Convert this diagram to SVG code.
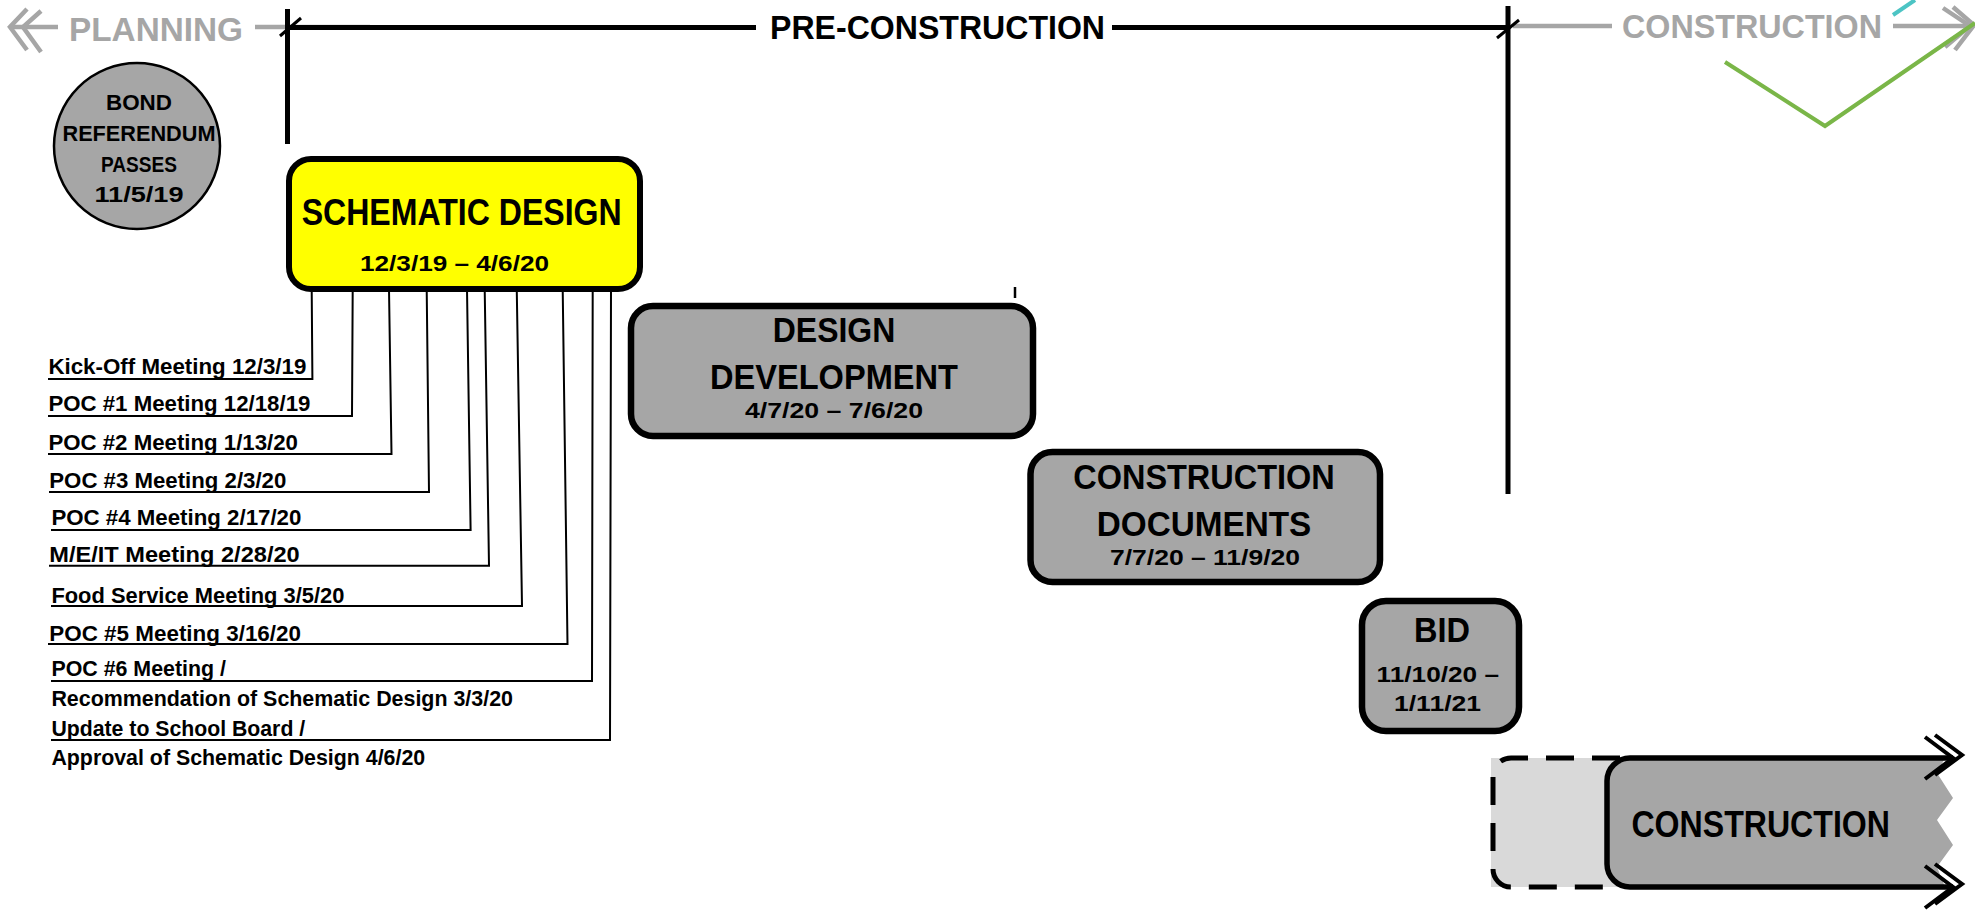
<svg xmlns="http://www.w3.org/2000/svg" width="1975" height="915" viewBox="0 0 1975 915">
<style>
text{font-family:"Liberation Sans",Arial,sans-serif;font-weight:bold;fill:#000}
.hdr{font-size:34px}
.ghdr{font-size:34px;fill:#a6a6a6}
.gl{stroke:#a6a6a6;stroke-width:4.5;fill:none}
.bl{stroke:#000;stroke-width:5;fill:none}
.box{fill:#a6a6a6;stroke:#000;stroke-width:6.5}
.ttl{font-size:35px}
.dt{font-size:22px}
.mt{font-size:21.5px}
.conn{stroke:#000;stroke-width:2;fill:none}
</style>
<rect width="1975" height="915" fill="#fff"/>

<g id="header">
  <line class="gl" x1="10" y1="27" x2="58" y2="27"/>
  <polyline class="gl" points="27,9 10,27 27,50"/>
  <polyline class="gl" points="41,11 23,27 41,52"/>
  <text class="ghdr" x="69" y="40.7" textLength="174" lengthAdjust="spacingAndGlyphs">PLANNING</text>
  <line class="gl" x1="255" y1="27" x2="370" y2="27"/>
  <line class="bl" x1="287" y1="27.5" x2="756" y2="27.5"/>
  <text class="hdr" x="770" y="39" textLength="335" lengthAdjust="spacingAndGlyphs">PRE-CONSTRUCTION</text>
  <line class="bl" x1="1112" y1="27.5" x2="1508" y2="27.5"/>
  <line class="gl" x1="1513" y1="26" x2="1612" y2="26"/>
  <text class="ghdr" x="1622" y="37.7" textLength="260" lengthAdjust="spacingAndGlyphs">CONSTRUCTION</text>
  <line class="gl" x1="1893" y1="26" x2="1968" y2="26"/>
  <polyline class="gl" points="1943,8 1970,26 1945,47"/>
  <polyline class="gl" points="1953,7 1974,25 1955,50"/>
  <line x1="1893" y1="15" x2="1915" y2="0" stroke="#4cc4c4" stroke-width="4"/>
  <polyline points="1725,62 1825,126 1975,23" fill="none" stroke="#7ab648" stroke-width="4"/>
  <line class="bl" x1="287.5" y1="9" x2="287.5" y2="144"/>
  <line class="bl" x1="1508" y1="6" x2="1508" y2="494"/>
  <line x1="280" y1="36" x2="301" y2="18" stroke="#000" stroke-width="3"/>
  <line x1="1497" y1="38" x2="1519" y2="20" stroke="#000" stroke-width="3"/>
  <line x1="1015" y1="287" x2="1015" y2="298" stroke="#000" stroke-width="2.5"/>
</g>

<g id="connectors">
  <path class="conn" d="M311.7,289 L312.4,379 H48"/>
  <path class="conn" d="M352.7,289 L352,416 H48"/>
  <path class="conn" d="M389,289 L391.5,454 H48"/>
  <path class="conn" d="M426.7,289 L429,492 H49"/>
  <path class="conn" d="M467,289 L470.6,530 H51"/>
  <path class="conn" d="M484.7,289 L489,565.7 H49"/>
  <path class="conn" d="M516.7,286 L522,606 H51"/>
  <path class="conn" d="M562.7,289 L567.5,644 H48"/>
  <path class="conn" d="M592.7,289 L592,681 H51"/>
  <path class="conn" d="M611,289 L610,740 H51"/>
</g>

<g id="bond-referendum">
  <circle cx="137" cy="146" r="83" fill="#a6a6a6" stroke="#000" stroke-width="2.5"/>
  <text class="mt" x="139" y="109.5" text-anchor="middle" textLength="66" lengthAdjust="spacingAndGlyphs">BOND</text>
  <text class="mt" x="139" y="140.5" text-anchor="middle" textLength="153" lengthAdjust="spacingAndGlyphs">REFERENDUM</text>
  <text class="mt" x="139" y="171.5" text-anchor="middle" textLength="76" lengthAdjust="spacingAndGlyphs">PASSES</text>
  <text class="mt" x="139" y="202" text-anchor="middle" textLength="89" lengthAdjust="spacingAndGlyphs">11/5/19</text>
</g>

<g id="schematic-design">
  <rect x="289" y="159" width="351" height="130" rx="22" fill="#ffff00" stroke="#000" stroke-width="6"/>
  <text x="461.7" y="225" font-size="36" text-anchor="middle" textLength="320" lengthAdjust="spacingAndGlyphs">SCHEMATIC DESIGN</text>
  <text class="dt" x="454.5" y="270.7" text-anchor="middle" textLength="189" lengthAdjust="spacingAndGlyphs">12/3/19 – 4/6/20</text>
</g>

<g id="design-development">
  <rect class="box" x="631" y="306" width="402" height="130" rx="22"/>
  <text class="ttl" x="834" y="341.5" text-anchor="middle" textLength="122.5" lengthAdjust="spacingAndGlyphs">DESIGN</text>
  <text class="ttl" x="834" y="389" text-anchor="middle" textLength="248" lengthAdjust="spacingAndGlyphs">DEVELOPMENT</text>
  <text class="dt" x="834" y="417.7" text-anchor="middle" textLength="178" lengthAdjust="spacingAndGlyphs">4/7/20 – 7/6/20</text>
</g>

<g id="construction-documents">
  <rect class="box" x="1030.5" y="452" width="349.5" height="130" rx="22"/>
  <text class="ttl" x="1204" y="488.5" text-anchor="middle" textLength="261.5" lengthAdjust="spacingAndGlyphs">CONSTRUCTION</text>
  <text class="ttl" x="1204" y="535.5" text-anchor="middle" textLength="214.5" lengthAdjust="spacingAndGlyphs">DOCUMENTS</text>
  <text class="dt" x="1205" y="565" text-anchor="middle" textLength="190" lengthAdjust="spacingAndGlyphs">7/7/20 – 11/9/20</text>
</g>

<g id="bid">
  <rect class="box" x="1362" y="601" width="157" height="130" rx="24"/>
  <text class="ttl" x="1442" y="642" text-anchor="middle" textLength="56" lengthAdjust="spacingAndGlyphs">BID</text>
  <text class="dt" x="1437.8" y="681.7" text-anchor="middle" textLength="122.4" lengthAdjust="spacingAndGlyphs">11/10/20 –</text>
  <text class="dt" x="1437.5" y="711" text-anchor="middle" textLength="87" lengthAdjust="spacingAndGlyphs">1/11/21</text>
</g>

<g id="construction">
  <path d="M1630,758 H1491 V887 H1630 Z" fill="#d9d9d9"/>
  <path d="M1620,758 H1511 A18,18 0 0 0 1493,776 V869 A18,18 0 0 0 1511,887 H1620" fill="none" stroke="#000" stroke-width="5" stroke-dasharray="28 18"/>
  <path d="M1630,758 H1945 L1937,773 L1953,798 L1937,820 L1953,845 L1937,867 L1945,887 H1630 A23,23 0 0 1 1607,864 V781 A23,23 0 0 1 1630,758 Z" fill="#a6a6a6"/>
  <path d="M1953,758 H1630 A23,23 0 0 0 1607,781 V864 A23,23 0 0 0 1630,887 H1953" fill="none" stroke="#000" stroke-width="5.5"/>
  <polyline points="1925,737 1953,758 1925,779" fill="none" stroke="#000" stroke-width="4"/>
  <polyline points="1935,735 1962,755 1935,775" fill="none" stroke="#000" stroke-width="4"/>
  <polyline points="1925,866 1953,887 1925,908" fill="none" stroke="#000" stroke-width="4"/>
  <polyline points="1935,864 1962,884 1935,904" fill="none" stroke="#000" stroke-width="4"/>
  <text x="1760.7" y="837" font-size="36" text-anchor="middle" textLength="258.5" lengthAdjust="spacingAndGlyphs">CONSTRUCTION</text>
</g>

<g id="meeting-1"><text class="mt" x="48.4" y="374" textLength="258" lengthAdjust="spacingAndGlyphs">Kick-Off Meeting 12/3/19</text></g>
<g id="meeting-2"><text class="mt" x="48.4" y="410.7" textLength="262" lengthAdjust="spacingAndGlyphs">POC #1 Meeting 12/18/19</text></g>
<g id="meeting-3"><text class="mt" x="48.4" y="450" textLength="249.6" lengthAdjust="spacingAndGlyphs">POC #2 Meeting 1/13/20</text></g>
<g id="meeting-4"><text class="mt" x="49.3" y="488.3" textLength="237" lengthAdjust="spacingAndGlyphs">POC #3 Meeting 2/3/20</text></g>
<g id="meeting-5"><text class="mt" x="51.4" y="525.3" textLength="250" lengthAdjust="spacingAndGlyphs">POC #4 Meeting 2/17/20</text></g>
<g id="meeting-6"><text class="mt" x="49.3" y="562" textLength="250.4" lengthAdjust="spacingAndGlyphs">M/E/IT Meeting 2/28/20</text></g>
<g id="meeting-7"><text class="mt" x="51.4" y="603.3" textLength="293" lengthAdjust="spacingAndGlyphs">Food Service Meeting 3/5/20</text></g>
<g id="meeting-8"><text class="mt" x="49.3" y="640.7" textLength="251.7" lengthAdjust="spacingAndGlyphs">POC #5 Meeting 3/16/20</text></g>
<g id="meeting-9">
  <text class="mt" x="51.4" y="676" textLength="174.6" lengthAdjust="spacingAndGlyphs">POC #6 Meeting /</text>
  <text class="mt" x="51.4" y="706" textLength="461.6" lengthAdjust="spacingAndGlyphs">Recommendation of Schematic Design 3/3/20</text>
</g>
<g id="meeting-10">
  <text class="mt" x="51.4" y="736" textLength="253.8" lengthAdjust="spacingAndGlyphs">Update to School Board /</text>
  <text class="mt" x="51.4" y="765" textLength="373.8" lengthAdjust="spacingAndGlyphs">Approval of Schematic Design 4/6/20</text>
</g>
</svg>
